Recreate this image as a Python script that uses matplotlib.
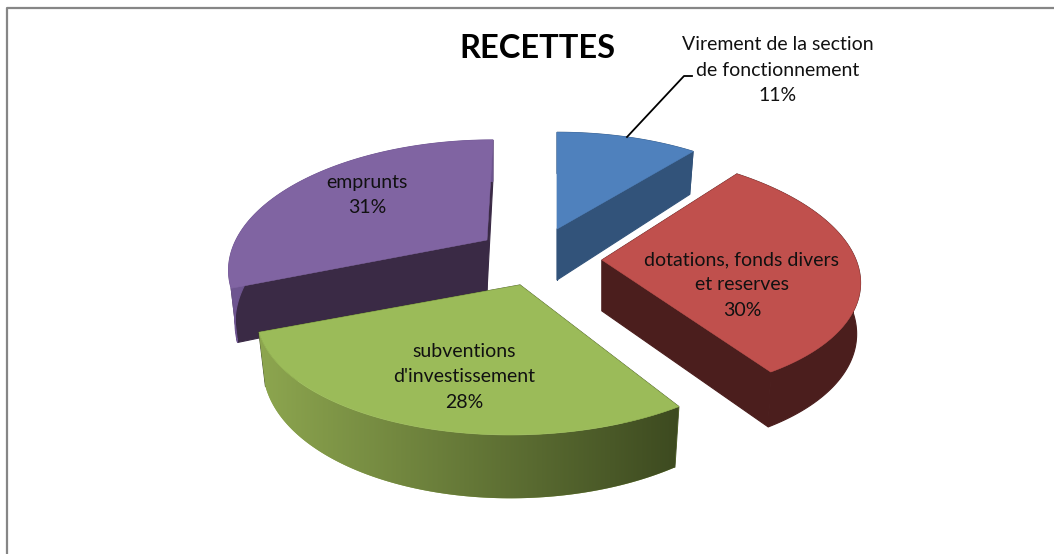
import numpy as np
import matplotlib
matplotlib.use("Agg")
import matplotlib.pyplot as plt
from matplotlib.patches import Polygon
from matplotlib.colors import to_rgb, LinearSegmentedColormap

# ---- data ----
categories = ["Virement de la section\nde fonctionnement", "dotations, fonds divers\net reserves",
              "subventions\nd'investissement", "emprunts"]
values = [11, 30, 28, 31]
title = "RECETTES"

# ---- style / layout (pixel space) ----
W, H = 1054, 554
apexes = [(557, 229), (602, 260), (520, 285), (487, 240)]
radii_x = [248, 254, 256, 251]
radii_y = [117, 120.8, 118.5, 121]
persp = [0.21, 0.106, 0.21, 0.21]
skew = [0.0, 0.172, -0.065, -0.06]
shrink = [0.975, 0.985, 0.975, 0.975]
label_pos = [(778, 70), (742, 285), (464, 377), (367, 195)]
top_cols = ["#4F81BD", "#C0504D", "#9BBB59", "#8064A2"]
face_cols = ["#32537A", "#4B1E1D", "#3D4A20", "#3A2A45"]
rim_cols = [("#32537A", "#32537A"), ("#4B1E1D", "#4B1E1D"), ("#8DA64F", "#3D4A20"), ("#6E5590", "#6E5590")]
DEPTH = 50

fig = plt.figure(figsize=(W / 100, H / 100), dpi=100)
ax = fig.add_axes([0, 0, 1, 1])
ax.axis("off")

# frame: only top and left are visible in the crop
ax.plot([6.5, 6.5, W], [H, 8, 8], color="#868686", lw=1.6, solid_capstyle="butt")


def project(theta, i, low=False):
    """Clockwise angle from the top -> perspective-projected pixel position."""
    s, c = np.sin(theta), np.cos(theta)
    w = 1 + persp[i] * c
    dy = -radii_y[i] * c / w
    dx = radii_x[i] * s / w + skew[i] * dy
    if low:
        return apexes[i][0] + shrink[i] * dx, apexes[i][1] + dy + DEPTH / w
    return apexes[i][0] + dx, apexes[i][1] + dy


fractions = np.array(values) / np.sum(values)
edges = np.concatenate([[0], np.cumsum(fractions)]) * 2 * np.pi

# painter's order: back slices first
for order, i in enumerate((0, 3, 1, 2)):
    z = 2 + order * 0.1
    t = np.linspace(edges[i], edges[i + 1], 120)
    apex = apexes[i]
    top = np.array(project(t, i)).T
    low = np.array(project(t, i, low=True)).T
    apex_low = (apex[0], apex[1] + DEPTH + 1)

    # cut faces
    for k in (0, -1):
        ax.add_patch(Polygon([apex, top[k], low[k], apex_low], closed=True,
                             fc=face_cols[i], ec=face_cols[i], lw=0.8, zorder=z))
    # outer rim, with a horizontal gradient where the chart has one
    same = rim_cols[i][0] == rim_cols[i][1]
    rim = Polygon(np.vstack([top, low[::-1]]), closed=True, fc=rim_cols[i][0],
                  ec=rim_cols[i][0] if same else "none", lw=0.8, zorder=z + 0.01)
    ax.add_patch(rim)
    if not same:
        cmap = LinearSegmentedColormap.from_list("rim", [to_rgb(c) for c in rim_cols[i]])
        x0, x1 = top[:, 0].min(), top[:, 0].max()
        y0, y1 = top[:, 1].min(), low[:, 1].max() + 2
        im = ax.imshow(np.linspace(0, 1, 256)[None, :], extent=(x0, x1, y1, y0), cmap=cmap,
                       aspect="auto", zorder=z + 0.01, interpolation="bilinear")
        im.set_clip_path(rim)
    # top face
    ax.add_patch(Polygon(np.vstack([[apex], top]), closed=True, fc=top_cols[i],
                         ec=top_cols[i], lw=0.4, zorder=z + 0.05))

ax.set_xlim(0, W)
ax.set_ylim(H, 0)

font = ["Lato", "DejaVu Sans"]
for i, (name, pos) in enumerate(zip(categories, label_pos)):
    ax.text(pos[0], pos[1], f"{name}\n{values[i]}%", ha="center", va="center", fontsize=14,
            family=font, color="#111111", linespacing=1.6, zorder=5)
ax.text(537, 48, title, ha="center", va="center", fontsize=23.5, fontweight="bold",
        family=font, color="black", zorder=5)
# leader line
ax.plot([627, 684, 692], [137, 76, 76], color="black", lw=1.3, zorder=5)

fig.savefig("out.png", dpi=100, facecolor="white")
